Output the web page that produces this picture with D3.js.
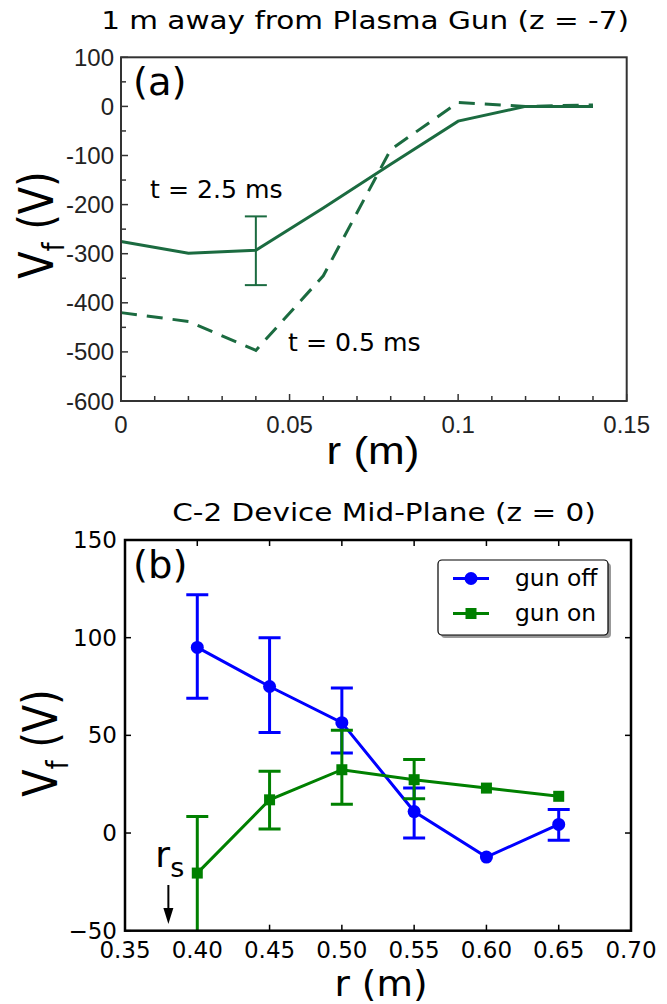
<!DOCTYPE html>
<html>
<head>
<meta charset="utf-8">
<script src="https://cdn.jsdelivr.net/npm/d3@7"></script>
<style>
  body { margin: 0; background: #fff; }
  svg { display: block; }
  .dv { font-family: "DejaVu Sans", sans-serif; }
  .ar { font-family: "Liberation Sans", Arial, sans-serif; }
</style>
</head>
<body>
<div id="chart"></div>
<script>
// panel (a): 1 m away from the gun
var rA = [0, 0.02, 0.04, 0.06, 0.08, 0.1, 0.12, 0.14];
var late = [-275, -299, -293, -207, -118, -30, 0, 0];      // t = 2.5 ms
var early = [-420, -438, -497, -345, -88, 8, 0, 3];        // t = 0.5 ms
var lateErr = [{r: 0.04, lo: -364, hi: -224}];

// panel (b): mid-plane
var rB = [0.40, 0.45, 0.50, 0.55, 0.60, 0.65];
var gunOff = [95, 75, 56.5, 11, -12.3, 4.4];
var gunOffLo = [69, 51.5, 41, -2.6, -12.3, -3.7];
var gunOffHi = [122, 100, 74.2, 23, -12.3, 12.1];
var gunOn = [-20.5, 17, 32.4, 27.3, 23, 18.8];
var gunOnLo = [-60, 2, 14.7, 17.6, 23, 18.8];
var gunOnHi = [8.5, 31.6, 52.6, 37.6, 23, 18.8];

var W = 667, H = 1004;
var svg = d3.select('#chart').append('svg').attr('width', W).attr('height', H);

var green = '#1b6b40';

// text that is a bit wider than tall, like the original figure
function label(g, x, y, str, size, cls, sx, anchor){
  return g.append('text').attr('class', cls)
    .attr('transform', 'translate(' + x + ',' + y + ') scale(' + sx + ',1)')
    .attr('text-anchor', anchor || 'start').attr('font-size', size).text(str);
}
function vlabel(g, x, y){
  var t = g.append('text').attr('class', 'dv')
    .attr('transform', 'translate(' + x + ',' + y + ') scale(1.2,1) rotate(-90)')
    .attr('text-anchor', 'middle').attr('font-size', 40);
  t.append('tspan').text('V');
  t.append('tspan').attr('font-size', 25).attr('dy', 9).text('f');
  t.append('tspan').attr('dy', -9).text(' (V)');
}

// ---------- panel (a) ----------
var xa = d3.scaleLinear().domain([0, 0.15]).range([121, 626.7]);
var ya = d3.scaleLinear().domain([-600, 100]).range([401, 57.3]);

var ga = svg.append('g');

// inward ticks, left + bottom, with minors
d3.range(0, 0.1501, 0.01).forEach(function(v, i){
  var major = i % 5 === 0;
  ga.append('line').attr('x1', xa(v)).attr('x2', xa(v))
    .attr('y1', 401).attr('y2', 401 - (major ? 7 : 5))
    .attr('stroke', '#333').attr('stroke-width', 1.5);
});
d3.range(-600, 101, 50).forEach(function(v, i){
  var major = i % 2 === 0;
  ga.append('line').attr('x1', 121).attr('x2', 121 + (major ? 7 : 5))
    .attr('y1', ya(v)).attr('y2', ya(v))
    .attr('stroke', '#333').attr('stroke-width', 1.5);
});

ga.selectAll('.ytl').data(d3.range(-600, 101, 100)).enter().append('text')
  .attr('class', 'ar').attr('x', 114).attr('y', function(d){ return ya(d) + 8.5; })
  .attr('text-anchor', 'end').attr('font-size', 24).attr('fill', '#222')
  .text(function(d){ return d < 0 ? '-' + Math.abs(d) : d; });

ga.selectAll('.xtl').data([0, 0.05, 0.1, 0.15]).enter().append('text')
  .attr('class', 'ar').attr('x', function(d){ return xa(d); }).attr('y', 433)
  .attr('text-anchor', 'middle').attr('font-size', 24).attr('fill', '#222')
  .text(function(d){ return d; });

var lineA = d3.line().x(function(d){ return xa(d[0]); }).y(function(d){ return ya(d[1]); });

ga.append('path').datum(d3.zip(rA, early)).attr('d', lineA)
  .attr('fill', 'none').attr('stroke', green).attr('stroke-width', 3)
  .attr('stroke-dasharray', '16,10');
ga.append('path').datum(d3.zip(rA, late)).attr('d', lineA)
  .attr('fill', 'none').attr('stroke', green).attr('stroke-width', 3);

lateErr.forEach(function(e){
  var x = xa(e.r);
  ga.append('line').attr('x1', x).attr('x2', x).attr('y1', ya(e.lo)).attr('y2', ya(e.hi))
    .attr('stroke', green).attr('stroke-width', 2);
  [e.lo, e.hi].forEach(function(v){
    ga.append('line').attr('x1', x - 11).attr('x2', x + 11).attr('y1', ya(v)).attr('y2', ya(v))
      .attr('stroke', green).attr('stroke-width', 2);
  });
});

ga.append('rect').attr('x', 121).attr('y', 57.3).attr('width', 626.7 - 121).attr('height', 401 - 57.3)
  .attr('fill', 'none').attr('stroke', '#333').attr('stroke-width', 2);

label(ga, 133, 95, '(a)', 37, 'dv', 1.04);
label(ga, 150, 198, 't = 2.5 ms', 24, 'dv', 1.05);
label(ga, 288, 351, 't = 0.5 ms', 24, 'dv', 1.05);
label(ga, 365, 29, '1 m away from Plasma Gun (z = -7)', 25, 'dv', 1.18, 'middle');
label(ga, 373, 464, 'r (m)', 39, 'ar', 1.13, 'middle');
vlabel(ga, 53, 225);

// ---------- panel (b) ----------
var xb = d3.scaleLinear().domain([0.35, 0.70]).range([125, 631]);
var yb = d3.scaleLinear().domain([-50, 150]).range([930.7, 540]);

var gb = svg.append('g');
svg.append('clipPath').attr('id', 'clipB').append('rect')
  .attr('x', 125).attr('y', 540).attr('width', 631 - 125).attr('height', 930.7 - 540);

var xt = d3.range(0.35, 0.7001, 0.05), yt = d3.range(-50, 151, 50);
xt.forEach(function(v){
  gb.append('line').attr('x1', xb(v)).attr('x2', xb(v)).attr('y1', 930.7).attr('y2', 924.7).attr('stroke', '#000').attr('stroke-width', 1.5);
  gb.append('line').attr('x1', xb(v)).attr('x2', xb(v)).attr('y1', 540).attr('y2', 546).attr('stroke', '#000').attr('stroke-width', 1.5);
});
yt.forEach(function(v){
  gb.append('line').attr('x1', 125).attr('x2', 131).attr('y1', yb(v)).attr('y2', yb(v)).attr('stroke', '#000').attr('stroke-width', 1.5);
  gb.append('line').attr('x1', 631).attr('x2', 625).attr('y1', yb(v)).attr('y2', yb(v)).attr('stroke', '#000').attr('stroke-width', 1.5);
});

gb.selectAll('.xtb').data(xt).enter().append('text')
  .attr('class', 'dv').attr('x', function(d){ return xb(d); }).attr('y', 958)
  .attr('text-anchor', 'middle').attr('font-size', 23)
  .text(function(d){ return d3.format('.2f')(d); });
gb.selectAll('.ytb').data(yt).enter().append('text')
  .attr('class', 'dv').attr('x', 117).attr('y', function(d){ return yb(d) + 8; })
  .attr('text-anchor', 'end').attr('font-size', 23)
  .text(function(d){ return d < 0 ? '\u2212' + Math.abs(d) : d; });

var plot = gb.append('g').attr('clip-path', 'url(#clipB)');
var lineB = d3.line().x(function(d){ return xb(d[0]); }).y(function(d){ return yb(d[1]); });

function series(vals, lo, hi, color, shape){
  var g = plot.append('g');
  rB.forEach(function(r, i){
    if (hi[i] === lo[i]) return;
    var x = xb(r);
    g.append('line').attr('x1', x).attr('x2', x).attr('y1', yb(lo[i])).attr('y2', yb(hi[i]))
      .attr('stroke', color).attr('stroke-width', 3);
    [lo[i], hi[i]].forEach(function(v){
      g.append('line').attr('x1', x - 11).attr('x2', x + 11).attr('y1', yb(v)).attr('y2', yb(v))
        .attr('stroke', color).attr('stroke-width', 3);
    });
  });
  g.append('path').datum(d3.zip(rB, vals)).attr('d', lineB)
    .attr('fill', 'none').attr('stroke', color).attr('stroke-width', 3);
  rB.forEach(function(r, i){
    if (shape === 'circle') {
      g.append('circle').attr('cx', xb(r)).attr('cy', yb(vals[i])).attr('r', 6.5).attr('fill', color);
    } else {
      g.append('rect').attr('x', xb(r) - 5.5).attr('y', yb(vals[i]) - 5.5).attr('width', 11).attr('height', 11).attr('fill', color);
    }
  });
}
series(gunOff, gunOffLo, gunOffHi, '#0000ff', 'circle');
series(gunOn, gunOnLo, gunOnHi, '#008000', 'square');

gb.append('rect').attr('x', 125).attr('y', 540).attr('width', 631 - 125).attr('height', 930.7 - 540)
  .attr('fill', 'none').attr('stroke', '#000').attr('stroke-width', 2.5);

// legend
var lg = gb.append('g');
lg.append('rect').attr('x', 441).attr('y', 563).attr('width', 170).attr('height', 75).attr('rx', 4)
  .attr('fill', '#999');
lg.append('rect').attr('x', 438).attr('y', 560).attr('width', 170).attr('height', 75).attr('rx', 4)
  .attr('fill', '#fff').attr('stroke', '#000').attr('stroke-width', 1.2);
[{name: 'gun off', color: '#0000ff', shape: 'circle', y: 578.5},
 {name: 'gun on', color: '#008000', shape: 'square', y: 613.5}].forEach(function(e){
  lg.append('line').attr('x1', 453).attr('x2', 489).attr('y1', e.y).attr('y2', e.y)
    .attr('stroke', e.color).attr('stroke-width', 3);
  if (e.shape === 'circle') lg.append('circle').attr('cx', 471).attr('cy', e.y).attr('r', 6.5).attr('fill', e.color);
  else lg.append('rect').attr('x', 465.5).attr('y', e.y - 5.5).attr('width', 11).attr('height', 11).attr('fill', e.color);
  label(lg, 515, e.y + 7, e.name, 22.5, 'dv', 1.04);
});

label(gb, 133, 578, '(b)', 37, 'dv', 1.04);
label(gb, 384, 521, 'C-2 Device Mid-Plane (z = 0)', 25, 'dv', 1.18, 'middle');
label(gb, 381, 996, 'r (m)', 36, 'dv', 1.04, 'middle');
vlabel(gb, 57, 743);

// r_s marker
var rsx = xb(0.38);
var rs = gb.append('text').attr('class', 'dv').attr('x', rsx - 13).attr('y', 867).attr('font-size', 36);
rs.append('tspan').text('r');
rs.append('tspan').attr('font-size', 27).attr('dy', 10).text('s');
gb.append('line').attr('x1', rsx).attr('x2', rsx).attr('y1', 885).attr('y2', 912)
  .attr('stroke', '#000').attr('stroke-width', 2);
gb.append('path').attr('d', 'M' + (rsx - 5) + ',908 L' + (rsx + 5) + ',908 L' + rsx + ',924 Z').attr('fill', '#000');
</script>
</body>
</html>
